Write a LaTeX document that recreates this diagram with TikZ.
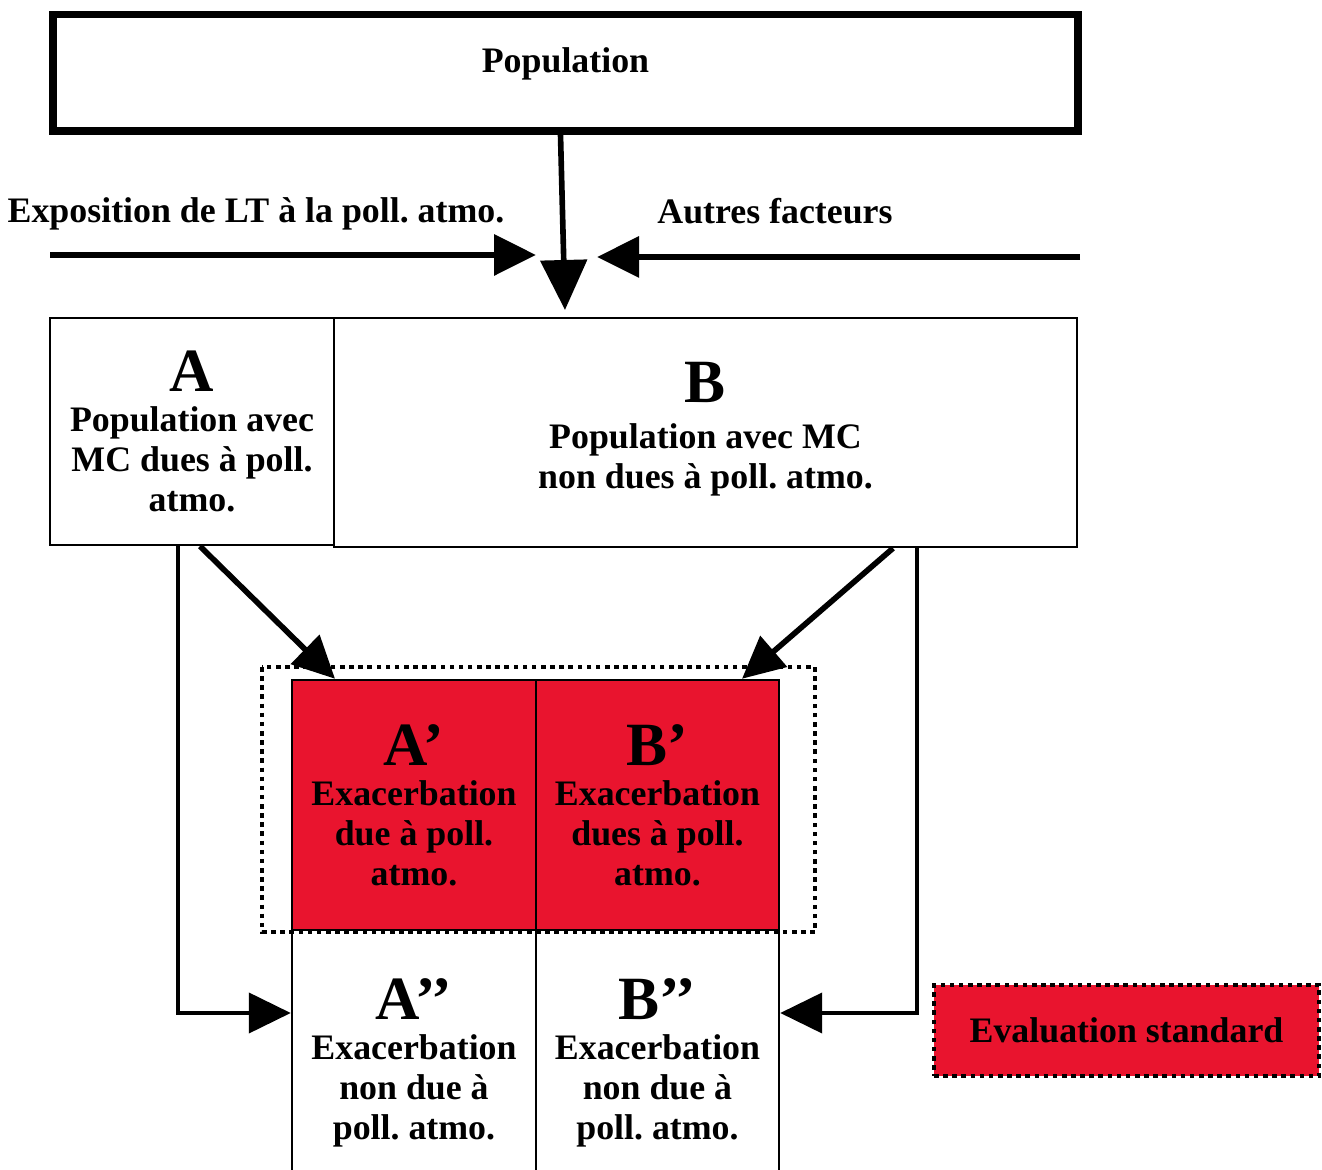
\documentclass[tikz,border=0pt]{standalone}
\usepackage{fontspec}
\setmainfont{Liberation Serif}
\usetikzlibrary{arrows.meta}
\definecolor{alertred}{RGB}{233,20,46}
\frenchspacing
\tikzset{
  box/.style={draw,line width=0.7pt,align=center,inner sep=0pt,font=\bfseries\fontsize{10.2}{11.4}\selectfont},
  plain/.style={box,draw=none},
  redbox/.style={box,fill=alertred},
  flow/.style={line width=1.6pt,-{Triangle[length=0.42cm,width=0.4cm]}},
  framedots/.style={line width=1.3pt,dash pattern=on 1.3pt off 1.3pt},
}
\newcommand{\bigletter}[1]{{\fontsize{17.5}{20}\selectfont #1}}

\begin{document}
\begin{tikzpicture}
        \clip (0,0) rectangle (13.22,11.69);
        % top
        \node[box,line width=2pt,minimum width=10.25cm,minimum height=1.16cm] (pop) at (5.655,10.96) {\raisebox{0.26cm}{Population}};
        \node[plain] (expo) at (2.56,9.55) {Exposition de LT à la poll. atmo.};
        \node[plain] (autres) at (7.75,9.58) {Autres facteurs};
        \coordinate (meet) at (5.65,8.59);
        \coordinate (expoin) at (0.50,9.14);
        \coordinate (expoout) at (5.36,9.14);
        \coordinate (autresin) at (10.80,9.12);
        \coordinate (autresout) at (5.97,9.12);
        % populations
        \node[box,minimum width=2.84cm,minimum height=2.27cm] (A) at (1.92,7.375) {\bigletter{A}\\Population avec\\MC dues à poll.\\atmo.};
        \node[box,minimum width=7.43cm,minimum height=2.29cm] (B) at (7.055,7.365) {\raisebox{0.06cm}{\bigletter{B}}\\Population avec MC\\non dues à poll. atmo.\rule[-0.14cm]{0pt}{0pt}};
        % exacerbations
        \node[redbox,minimum width=2.44cm,minimum height=2.5cm] (Ap) at (4.14,3.64) {\bigletter{A’}\\Exacerbation\\due à poll.\\atmo.};
        \node[redbox,minimum width=2.43cm,minimum height=2.5cm] (Bp) at (6.575,3.64) {\bigletter{B’}\\Exacerbation\\dues à poll.\\atmo.};
        \node[box,minimum width=2.44cm,minimum height=2.65cm] (App) at (4.14,1.065) {\bigletter{A’’}\\Exacerbation\\non due à\\poll. atmo.};
        \node[box,minimum width=2.43cm,minimum height=2.65cm] (Bpp) at (6.575,1.065) {\bigletter{B’’}\\Exacerbation\\non due à\\poll. atmo.};
        \draw[framedots] (2.62,5.02) rectangle (8.15,2.37);
        \node[redbox,framedots,minimum width=3.85cm,minimum height=0.91cm] (std) at (11.265,1.385) {Evaluation standard};
        % arrows
        \draw[flow,-{Triangle[length=0.5cm,width=0.46cm]}] ([xshift=-0.05cm]pop.south) -- (meet);
        \draw[flow,line width=1.8pt] (expoin) -- (expoout);
        \draw[flow,line width=1.8pt] (autresin) -- (autresout);
        \draw[flow] ([xshift=0.08cm]A.south) -- ([xshift=-0.79cm]Ap.north);
        \draw[flow] ([xshift=1.875cm]B.south) -- ([xshift=0.845cm]Bp.north);
        \draw[flow,line width=1.2pt] ([xshift=-0.14cm]A.south) |- ([yshift=0.495cm]App.west);
        \draw[flow,line width=1.2pt] ([xshift=2.115cm]B.south) |- ([yshift=0.495cm]Bpp.east);
\end{tikzpicture}
\end{document}
